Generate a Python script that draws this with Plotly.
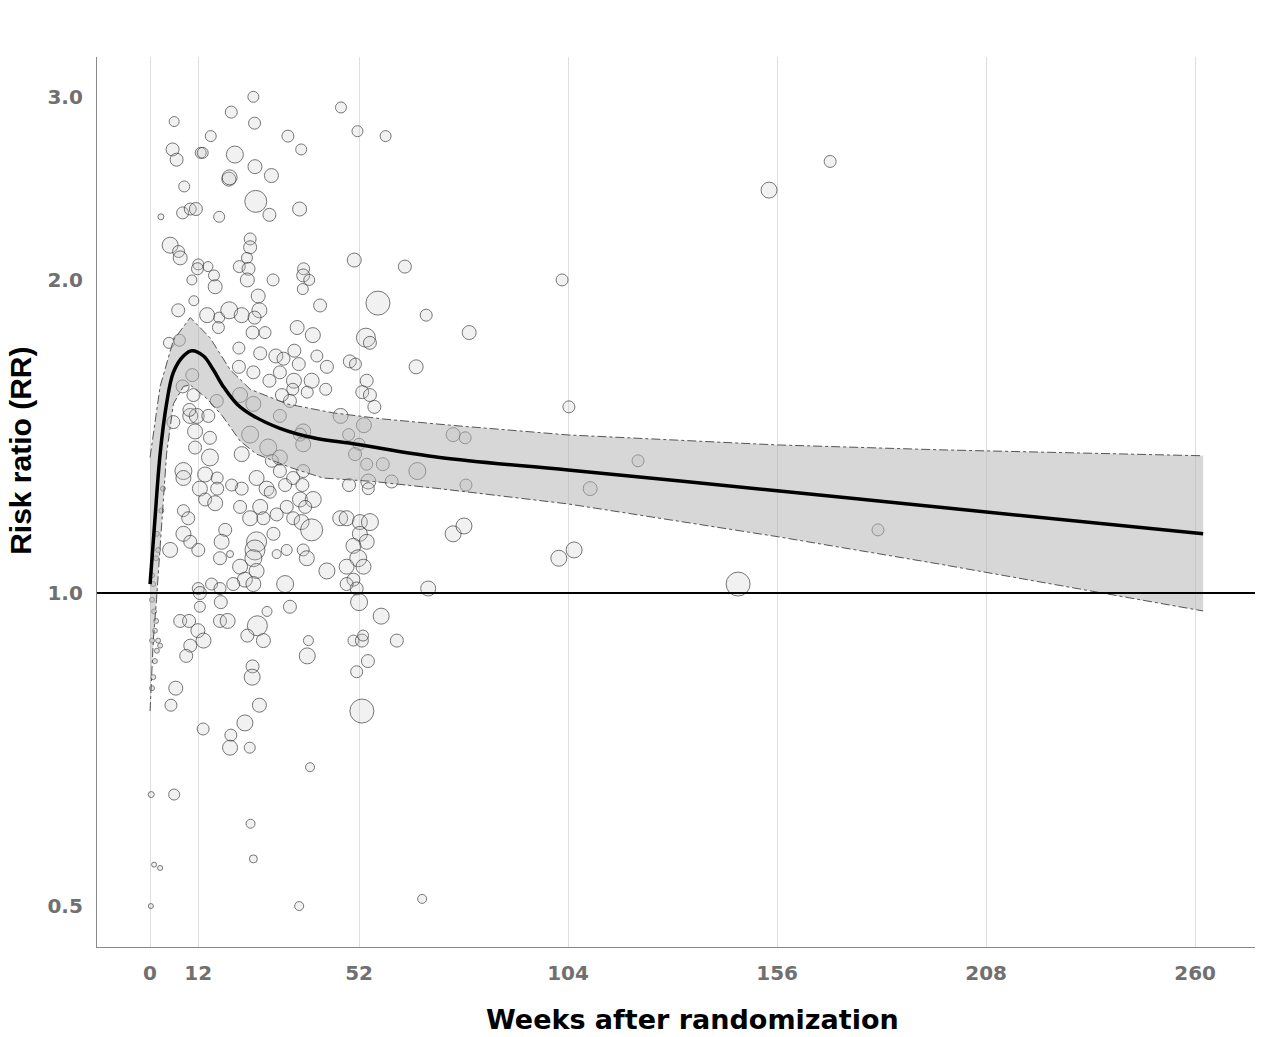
import plotly.graph_objects as go

# study-level estimates: week of follow-up, risk ratio, marker size (study weight)
weeks = [25.7, 47.5, 20.2, 6.0, 26.0, 51.6, 58.6, 15.1, 34.3, 5.6, 12.6, 13.1, 21.1, 6.6, 37.6,
         26.1, 30.2, 19.6, 19.8, 8.5, 26.3, 37.2, 29.7, 2.7, 8.1, 10.0, 11.4, 17.2, 5.0, 7.1,
         7.5, 24.9, 24.9, 24.1, 50.8, 63.4, 12.0, 11.8, 14.4, 15.9, 10.4, 16.2, 22.2, 24.5, 24.2,
         30.6, 38.2, 38.1, 39.6, 38.0, 10.9, 26.9, 42.3, 56.7, 68.7, 7.0, 14.2, 17.2, 19.7, 22.8,
         27.2, 26.0, 36.6, 40.5, 53.7, 54.7, 49.7, 51.1, 66.2, 44.0, 41.5, 25.5, 28.6, 17.0, 4.7,
         7.3, 22.1, 27.4, 31.3, 33.2, 35.9, 37.0, 22.1, 25.7, 29.7, 32.3, 35.8, 40.2, 43.7, 35.5,
         39.1, 34.8, 32.8, 53.9, 52.8, 54.7, 55.8, 47.4, 53.2, 49.4, 52.0, 51.0, 53.9, 57.9, 66.5,
         60.1, 54.3, 54.3, 49.5, 10.5, 8.1, 10.8, 16.6, 22.4, 25.7, 32.3, 38.1, 37.3, 38.1, 24.9,
         29.4, 32.3, 30.3, 5.8, 10.0, 11.6, 9.8, 14.5, 11.2, 14.9, 11.2, 14.9, 8.3, 8.3, 13.7,
         16.7, 12.4, 16.7, 13.7, 16.2, 22.8, 22.8, 20.3, 26.5, 29.0, 32.3, 33.6, 35.6, 38.1, 37.9,
         22.4, 24.9, 29.9, 31.5, 34.0, 37.3, 40.6, 35.6, 38.6, 37.7, 40.2, 47.3, 48.9, 52.2, 54.7,
         52.2, 53.9, 50.6, 51.8, 48.9, 53.1, 50.6, 51.4, 48.9, 44.0, 38.1, 39.0, 34.0, 31.5, 33.6,
         8.3, 9.5, 8.3, 10.0, 5.0, 12.0, 18.7, 17.8, 19.9, 17.4, 22.4, 26.5, 26.1, 25.7, 23.6,
         26.5, 25.7, 20.7, 27.4, 28.2, 30.7, 15.3, 17.4, 12.0, 12.4, 69.2, 12.4, 17.6, 7.5, 9.7,
         11.9, 17.4, 19.3, 26.7, 29.1, 34.8, 24.2, 28.2, 10.0, 13.3, 9.0, 39.4, 39.1, 50.6, 52.7,
         53.0, 61.4, 54.2, 51.4, 57.5, 52.0, 52.7, 25.5, 25.4, 6.4, 5.2, 27.2, 23.6, 13.2, 20.1,
         19.9, 24.8, 39.8, 0.3, 6.0, 25.0, 25.7, 1.0, 2.5, 0.2, 37.1, 67.7, 102.5, 79.4, 104.2,
         75.4, 78.4, 78.6, 121.4, 109.5, 75.4, 78.1, 101.7, 105.5, 146.3, 154.0, 169.2, 181.1]
rr = [3.00, 2.93, 2.90, 2.84, 2.83, 2.78, 2.75, 2.75, 2.75, 2.67, 2.65, 2.65, 2.64, 2.61, 2.67,
      2.57, 2.52, 2.50, 2.51, 2.46, 2.38, 2.34, 2.31, 2.30, 2.32, 2.34, 2.34, 2.30, 2.16, 2.13,
      2.10, 2.19, 2.15, 2.10, 2.09, 2.06, 2.07, 2.05, 2.06, 2.02, 2.00, 1.97, 2.06, 2.05, 2.00,
      2.00, 2.05, 2.02, 2.00, 1.96, 1.91, 1.93, 1.89, 1.90, 1.85, 1.87, 1.85, 1.84, 1.87, 1.85,
      1.87, 1.84, 1.80, 1.77, 1.76, 1.74, 1.67, 1.66, 1.65, 1.65, 1.69, 1.78, 1.78, 1.80, 1.74,
      1.75, 1.72, 1.70, 1.69, 1.68, 1.71, 1.66, 1.65, 1.63, 1.60, 1.63, 1.60, 1.60, 1.57, 1.57,
      1.56, 1.53, 1.55, 1.60, 1.56, 1.55, 1.51, 1.48, 1.45, 1.42, 1.39, 1.36, 1.33, 1.33, 1.31,
      1.28, 1.28, 1.26, 1.27, 1.62, 1.58, 1.55, 1.53, 1.55, 1.52, 1.48, 1.43, 1.42, 1.39, 1.42,
      1.38, 1.35, 1.34, 1.46, 1.48, 1.48, 1.50, 1.48, 1.43, 1.41, 1.38, 1.35, 1.31, 1.29, 1.30,
      1.29, 1.26, 1.26, 1.23, 1.22, 1.36, 1.26, 1.27, 1.29, 1.26, 1.31, 1.27, 1.29, 1.31, 1.27,
      1.21, 1.18, 1.25, 1.19, 1.21, 1.23, 1.23, 1.18, 1.21, 1.17, 1.15, 1.18, 1.18, 1.17, 1.17,
      1.14, 1.12, 1.11, 1.08, 1.06, 1.06, 1.03, 1.01, 1.02, 1.05, 1.10, 1.08, 1.10, 1.09, 1.02,
      1.20, 1.18, 1.14, 1.12, 1.10, 1.10, 1.15, 1.12, 1.09, 1.08, 1.06, 1.12, 1.10, 1.08, 1.03,
      1.05, 1.02, 1.02, 1.21, 1.18, 1.14, 1.02, 1.01, 1.01, 1.00, 1.01, 0.97, 0.98, 0.94, 0.94,
      0.92, 0.94, 0.94, 0.93, 0.96, 0.97, 0.91, 0.90, 0.89, 0.90, 0.87, 0.90, 0.87, 0.90, 0.90,
      0.91, 0.90, 0.86, 0.84, 0.95, 0.98, 0.77, 0.85, 0.83, 0.81, 0.78, 0.78, 0.75, 0.74, 0.73,
      0.71, 0.71, 0.68, 0.64, 0.64, 0.60, 0.555, 0.548, 0.544, 0.50, 0.50, 0.508, 2.00, 1.78, 1.51,
      1.42, 1.41, 1.27, 1.34, 1.26, 1.14, 1.16, 1.08, 1.10, 1.02, 2.44, 2.60, 1.15]
weight = [11, 11, 12, 10, 12, 11, 11, 11, 12, 13, 11, 11, 17, 13, 11,
          14, 14, 14, 15, 11, 22, 14, 13, 6, 12, 12, 13, 11, 16, 12,
          14, 12, 13, 11, 14, 13, 11, 12, 10, 11, 10, 14, 12, 13, 14,
          12, 12, 13, 11, 11, 10, 14, 13, 24, 12, 13, 15, 11, 17, 15,
          15, 13, 14, 15, 19, 13, 13, 12, 14, 13, 12, 13, 12, 12, 11,
          12, 12, 13, 14, 13, 13, 13, 13, 13, 13, 13, 15, 15, 12, 12,
          12, 13, 13, 13, 13, 13, 13, 15, 15, 12, 12, 13, 12, 13, 17,
          13, 15, 12, 13, 13, 13, 13, 13, 15, 15, 13, 15, 13, 15, 17,
          17, 15, 13, 13, 15, 15, 13, 13, 15, 13, 13, 17, 17, 15, 15,
          12, 15, 13, 13, 15, 15, 13, 12, 15, 15, 13, 13, 13, 13, 13,
          13, 15, 12, 13, 13, 15, 16, 13, 13, 15, 22, 15, 15, 15, 17,
          15, 15, 15, 17, 15, 15, 13, 13, 13, 16, 12, 15, 11, 9, 17,
          12, 13, 15, 13, 15, 13, 13, 15, 7, 13, 15, 20, 20, 17, 15,
          15, 15, 13, 15, 13, 13, 12, 12, 12, 13, 15, 11, 13, 13, 13,
          14, 13, 15, 20, 10, 13, 13, 14, 13, 15, 13, 10, 16, 11, 13,
          11, 13, 13, 12, 16, 17, 24, 13, 16, 14, 12, 14, 16, 12, 12,
          15, 11, 9, 6, 11, 9, 8, 5, 5, 5, 9, 9, 12, 14, 12,
          14, 12, 12, 12, 14, 16, 16, 16, 16, 24, 16, 12, 12]

# very early estimates (first weeks), tiny markers
early_weeks = [0.5, 0.8, 0.5, 1.0, 1.5, 1.2, 2.0, 1.7, 2.5, 1.2, 0.8, 0.5, 1.5, 2.0, 1.7, 0.5, 2.8, 3.2]
early_rr = [1.04, 1.02, 0.985, 0.96, 0.94, 0.92, 0.90, 0.88, 0.89, 0.86, 0.83, 0.81, 1.08, 1.10, 1.14, 0.90, 1.20, 1.26]

# pooled fit and 95% CI
fit_weeks = [0, 1.2, 2.5, 4.1, 5.8, 8.3, 10.4, 13.3, 15.7, 18.2, 21.6, 25.7, 32.3, 40.6, 51.4, 72.1, 104, 156, 196.5, 262]
fit_rr = [1.02, 1.175, 1.36, 1.52, 1.63, 1.69, 1.71, 1.69, 1.64, 1.58, 1.52, 1.48, 1.44, 1.41, 1.39, 1.35, 1.313, 1.254, 1.209, 1.14]
up_weeks = [0, 2.5, 5.8, 10, 14.9, 19.9, 24.9, 34.0, 45.6, 58.0, 74.6, 104, 156, 196.5, 262]
up_rr = [1.35, 1.58, 1.75, 1.84, 1.76, 1.64, 1.57, 1.52, 1.49, 1.47, 1.45, 1.419, 1.388, 1.373, 1.355]
lo_weeks = [0, 0.4, 0.8, 1.6, 2.5, 4.1, 5.8, 8.3, 10, 14, 18, 22.4, 26.5, 35, 43, 55.6, 72, 104, 156, 196.5, 262]
lo_rr = [0.77, 0.84, 0.90, 0.985, 1.11, 1.36, 1.52, 1.58, 1.585, 1.54, 1.48, 1.40, 1.36, 1.32, 1.29, 1.28, 1.26, 1.218, 1.133, 1.066, 0.961]

x_ticks = [0, 12, 52, 104, 156, 208, 260]
y_ticks = [0.5, 1.0, 2.0, 3.0]
y_ticktext = ['0.5', '1.0', '2.0', '3.0']

fig = go.Figure()

fig.add_trace(go.Scatter(x=weeks, y=rr, mode='markers',
                         marker=dict(size=weight, color='rgba(200,200,200,0.35)',
                                     line=dict(color='#3c3c3c', width=1)),
                         showlegend=False, hoverinfo='skip'))
fig.add_trace(go.Scatter(x=early_weeks, y=early_rr, mode='markers',
                         marker=dict(size=5, color='rgba(200,200,200,0.5)',
                                     line=dict(color='#666', width=0.8)),
                         showlegend=False, hoverinfo='skip'))

# CI band drawn over the points
fig.add_trace(go.Scatter(x=up_weeks + lo_weeks[::-1], y=up_rr + lo_rr[::-1],
                         mode='lines', fill='toself', fillcolor='rgba(175,175,175,0.5)',
                         line=dict(width=0), showlegend=False, hoverinfo='skip'))
for xs, ys in [(up_weeks, up_rr), (lo_weeks, lo_rr)]:
    fig.add_trace(go.Scatter(x=xs, y=ys, mode='lines',
                             line=dict(color='#555', width=1, dash='dashdot'),
                             showlegend=False, hoverinfo='skip'))

fig.add_trace(go.Scatter(x=fit_weeks, y=fit_rr, mode='lines', line_shape='spline',
                         line=dict(color='black', width=3.5),
                         showlegend=False, hoverinfo='skip'))

fig.add_shape(type='line', xref='paper', yref='y', x0=0, x1=1, y0=1, y1=1,
              line=dict(color='black', width=2), layer='above')

tick_font = dict(family='DejaVu Sans', size=20, color='#707070', weight='bold')

fig.update_layout(
    width=1268, height=1037,
    margin=dict(l=97, r=13, t=57, b=90),
    plot_bgcolor='white', paper_bgcolor='white',
    xaxis=dict(range=[-13.2, 274.9], tickvals=x_ticks, showgrid=True, gridcolor='#dedede',
               gridwidth=1, zeroline=False, showline=True, linecolor='#8a8a8a', linewidth=1.3,
               ticks='', tickfont=tick_font, ticklabelstandoff=8),
    yaxis=dict(type='log', range=[-0.3404, 0.5154], tickvals=y_ticks, ticktext=y_ticktext,
               showgrid=False, zeroline=False, showline=True, linecolor='#8a8a8a',
               linewidth=1.3, ticks='', tickfont=tick_font, ticklabelstandoff=9),
    annotations=[
        dict(text='Weeks after randomization', xref='paper', yref='paper', x=0.514, y=-0.082,
             showarrow=False, xanchor='center', yanchor='middle',
             font=dict(family='DejaVu Sans', size=27, color='black', weight='bold')),
        dict(text='Risk ratio (RR)', xref='paper', yref='paper', x=-0.066, y=0.557,
             showarrow=False, textangle=-90, xanchor='center', yanchor='middle',
             font=dict(family='Liberation Sans', size=30, color='black', weight='bold')),
    ],
)

fig.write_html("out.html", config={'displayModeBar': False},
               post_script="document.body.style.margin='0px';")
